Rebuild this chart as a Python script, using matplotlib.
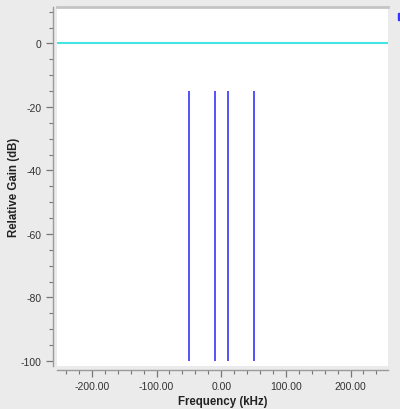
import matplotlib.pyplot as plt
from matplotlib.patches import Rectangle
from matplotlib.ticker import MultipleLocator, FormatStrFormatter

plt.rcParams['font.family'] = ['Liberation Sans', 'DejaVu Sans']
plt.rcParams['axes.unicode_minus'] = False

# tone frequencies (kHz) and their level (dB)
tone_freqs = [-50, -10, 10, 50]
tone_top = -15
floor_db = -100
ref_level = 0

fig = plt.figure(figsize=(4, 4.1), dpi=100, facecolor='#ebebeb')
ax = fig.add_axes([0.1425, 0.105, 0.8275, 0.8755])
ax.set_facecolor('white')

ax.axhline(ref_level, color='#45e5e5', lw=1.5)
ax.vlines(tone_freqs, floor_db, tone_top, color='#3535ff', lw=1.2)

ax.set_xlim(-254, 258)
ax.set_ylim(-101.6, 11.5)

ax.xaxis.set_major_locator(MultipleLocator(100))
ax.xaxis.set_minor_locator(MultipleLocator(20))
ax.xaxis.set_major_formatter(FormatStrFormatter('%.2f'))
ax.yaxis.set_major_locator(MultipleLocator(20))
ax.yaxis.set_minor_locator(MultipleLocator(5))

for s in ['left', 'bottom']:
    ax.spines[s].set_position(('outward', 3))
    ax.spines[s].set_color('#9a9a9a')
    ax.spines[s].set_linewidth(1.0)
ax.spines['top'].set_color('#c4c4c4')
ax.spines['top'].set_linewidth(2)
ax.spines['right'].set_visible(False)

ax.tick_params(which='major', length=5, width=0.9, color='#777777',
               labelsize=7.5, labelcolor='#333333', pad=3)
ax.tick_params(which='minor', length=3, width=0.8, color='#777777')

ax.set_xlabel('Frequency (kHz)', fontsize=8.3, fontweight='bold',
              color='#222222', labelpad=3)
ax.set_ylabel('Relative Gain (dB)', fontsize=8.3, fontweight='bold',
              color='#222222')
ax.yaxis.set_label_coords(-0.111, 0.5)

# legend swatch, cut off at the right edge of the window
fig.patches.append(Rectangle((0.995, 0.948), 0.01, 0.018, color='#3535ff',
                             transform=fig.transFigure, figure=fig))

fig.savefig('out.png', dpi=100, facecolor=fig.get_facecolor())
